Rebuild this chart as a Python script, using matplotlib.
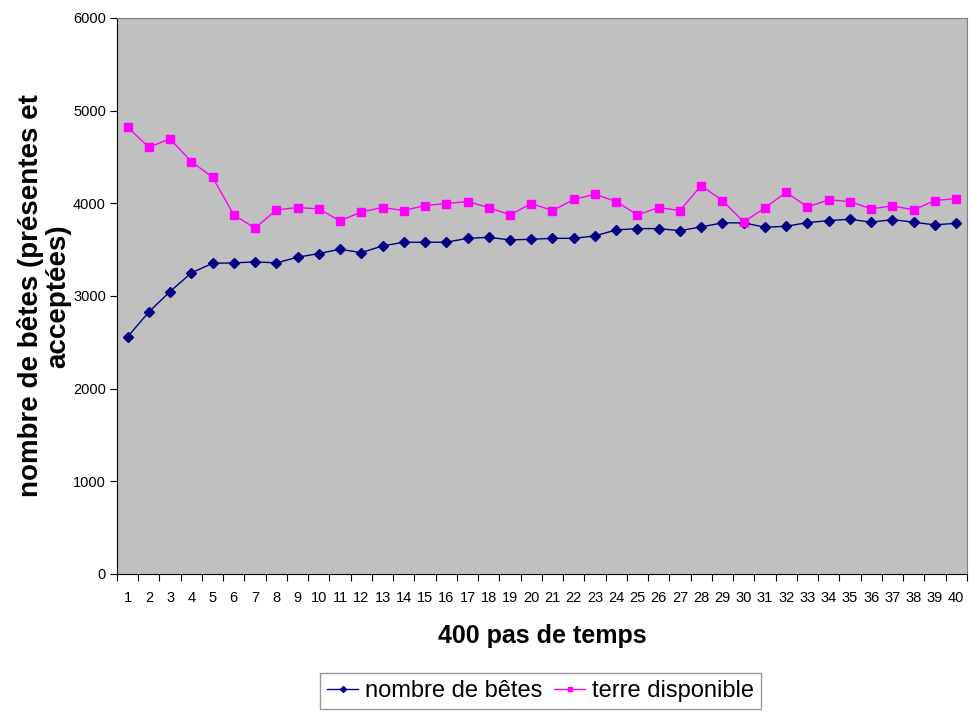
import numpy as np
import matplotlib.pyplot as plt
from matplotlib.ticker import FixedLocator

plt.rcParams['font.family'] = ['Liberation Sans', 'DejaVu Sans']

steps = list(range(1, 41))

betes = [2557, 2827, 3047, 3248, 3352, 3356, 3367, 3356, 3417, 3457,
         3503, 3467, 3539, 3579, 3579, 3579, 3621, 3632, 3604, 3611,
         3621, 3621, 3647, 3712, 3726, 3726, 3704, 3744, 3788, 3788,
         3741, 3751, 3791, 3812, 3827, 3795, 3823, 3795, 3766, 3784]

terre = [4820, 4604, 4694, 4449, 4280, 3874, 3730, 3928, 3953, 3939,
         3809, 3906, 3953, 3921, 3975, 3996, 4018, 3953, 3874, 3996,
         3921, 4040, 4097, 4018, 3874, 3953, 3921, 4190, 4029, 3798,
         3949, 4118, 3960, 4036, 4018, 3939, 3971, 3928, 4029, 4050]

fig = plt.figure(figsize=(9.69, 7.13), dpi=100)
ax = fig.add_axes([0.1207, 0.195, 0.877, 0.78])
ax.set_facecolor('#C0C0C0')

x = np.arange(1, 41)
ax.plot(x, betes, color='#000080', marker='D', markersize=5, linewidth=1,
        label='nombre de bêtes')
ax.plot(x, terre, color='#FF00FF', marker='s', markersize=6, linewidth=1,
        label='terre disponible')

ax.set_xlim(0.5, 40.5)
ax.set_ylim(0, 6000)
ax.set_yticks(range(0, 6001, 1000))
ax.tick_params(axis='y', labelsize=10.5, length=5, direction='out', pad=3)

# category ticks at boundaries, labels at centres
ax.xaxis.set_major_locator(FixedLocator(np.arange(0.5, 41, 1)))
ax.xaxis.set_major_formatter(plt.NullFormatter())
ax.xaxis.set_minor_locator(FixedLocator(x))
ax.set_xticklabels([str(s) for s in steps], minor=True)
ax.tick_params(axis='x', which='major', length=5, direction='out')
ax.tick_params(axis='x', which='minor', length=0, labelsize=10.5, pad=12)

for side in ['left', 'bottom']:
    ax.spines[side].set_color('black')
for side in ['top', 'right']:
    ax.spines[side].set_color('#808080')

ax.set_xlabel('400 pas de temps', fontsize=18, fontweight='bold', labelpad=14)
ax.set_ylabel('nombre de bêtes (présentes et\nacceptées)', fontsize=20,
              fontweight='bold', linespacing=1.1, labelpad=1)

leg = fig.legend(loc='lower center', bbox_to_anchor=(0.558, 0.0), ncol=2,
                 fontsize=17, frameon=True, fancybox=False, handlelength=1.3,
                 handletextpad=0.3, columnspacing=0.5, borderpad=0.3,
                 borderaxespad=0.15, markerscale=0.6)
leg.get_frame().set_edgecolor('#808080')
leg.get_frame().set_linewidth(1)

fig.savefig('out.png', dpi=100)
